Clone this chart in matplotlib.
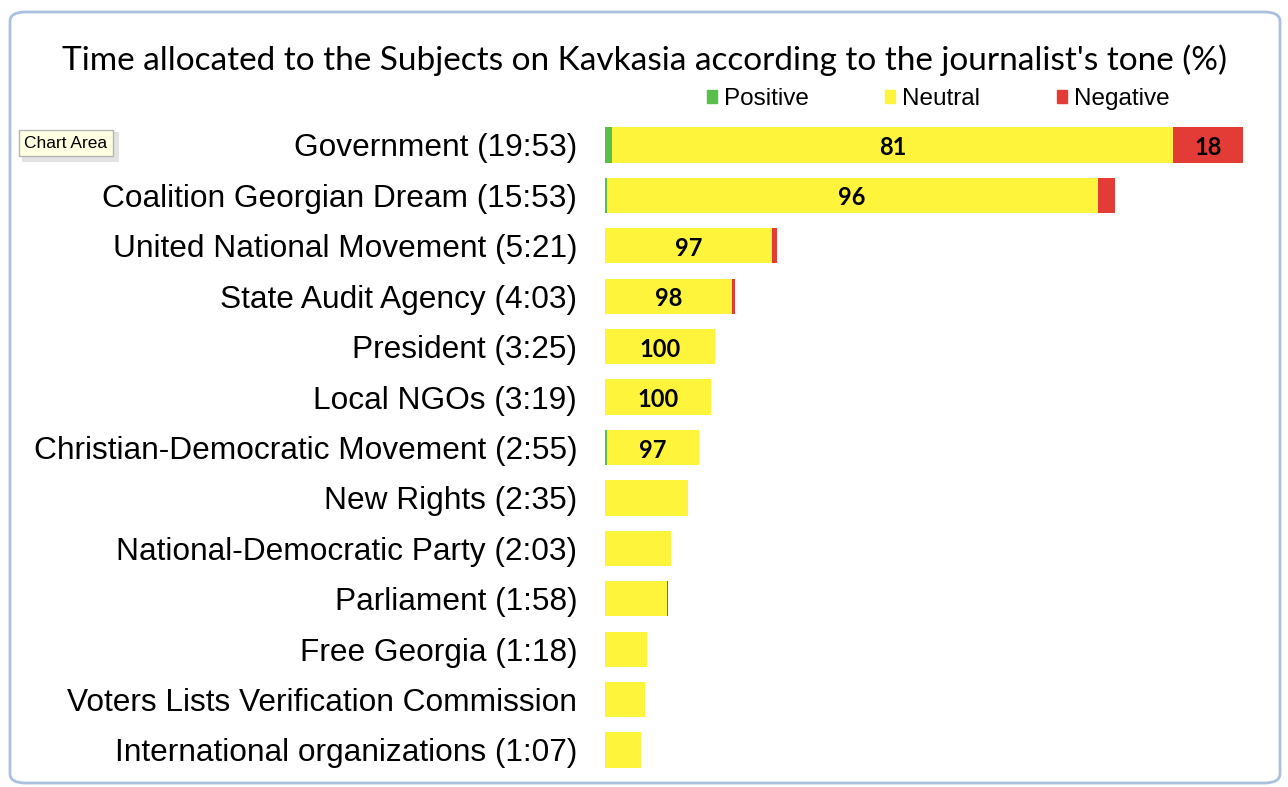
import numpy as np
import matplotlib
matplotlib.use('Agg')
import matplotlib.pyplot as plt
from matplotlib.patches import Patch, FancyBboxPatch, Rectangle

# subjects, top to bottom
subjects = ['Government (19:53)', 'Coalition Georgian Dream (15:53)', 'United National Movement (5:21)',
            'State Audit Agency (4:03)', 'President (3:25)', 'Local NGOs (3:19)',
            'Christian-Democratic Movement (2:55)', 'New Rights (2:35)', 'National-Democratic Party (2:03)',
            'Parliament (1:58)', 'Free Georgia (1:18)', 'Voters Lists Verification Commission',
            'International organizations (1:07)']

# time in seconds per tone
positive = [13, 3, 0, 0, 0, 0, 3, 0, 0, 0, 0, 0, 0]
neutral = [1049, 918, 312, 238, 205, 199, 172, 155, 123, 115, 78, 75, 67]
negative = [131, 32, 9, 5, 0, 0, 0, 0, 0, 3, 0, 0, 0]

# percent labels shown on bars
neutral_lbl = ['81', '96', '97', '98', '100', '100', '97', '', '', '', '', '', '']
negative_lbl = ['18', '', '', '', '', '', '', '', '', '', '', '', '']

colors = ['#58C04A', '#FFF43C', '#E33B36']

fig = plt.figure(figsize=(12.88, 7.87), dpi=100)

# window frame
frame = FancyBboxPatch((10/1288, 4/787), 1270/1288, 771/787, boxstyle='round,pad=0,rounding_size=0.012',
                       transform=fig.transFigure, facecolor='none', edgecolor='#A9C1DE', linewidth=2)
fig.patches.append(frame)

ax = fig.add_axes([605/1288, 0.015, 645/1288, 0.8328])
ax.patch.set_alpha(0)
y = np.arange(len(subjects))
pos = np.array(positive)
neu = np.array(neutral)
neg = np.array(negative)
ax.barh(y, pos, height=0.7, color=colors[0], label='Positive')
ax.barh(y, neu, left=pos, height=0.7, color=colors[1], label='Neutral')
ax.barh(y, neg, left=pos+neu, height=0.7, color=colors[2], label='Negative')

for i in range(len(subjects)):
    if neutral_lbl[i]:
        ax.text(pos[i]+neu[i]/2, i+0.05, neutral_lbl[i], ha='center', va='center',
                fontsize=17, fontweight='bold', family='Lato')
    if negative_lbl[i]:
        ax.text(pos[i]+neu[i]+neg[i]/2, i+0.05, negative_lbl[i], ha='center', va='center',
                fontsize=17, fontweight='bold', family='Lato')

ax.set_xlim(0, 1206)
ax.set_ylim(len(subjects)-0.5, -0.5)
ax.set_yticks(y)
ax.set_yticklabels(subjects, fontsize=22.8, family='Liberation Sans')
ax.tick_params(axis='y', length=0, pad=20)
ax.set_xticks([])
for s in ax.spines.values():
    s.set_visible(False)

fig.text(645/1288, 1-60/787, "Time allocated to the Subjects on Kavkasia according to the journalist's tone (%)",
         ha='center', va='center', fontsize=24, family='Lato')

handles = [Patch(color=c) for c in colors]
fig.legend(handles, ['Positive', 'Neutral', 'Negative'], loc='center', bbox_to_anchor=(938/1288, 1-99/787),
           ncol=3, frameon=False, handlelength=0.42, handleheight=0.42, handletextpad=0.28,
           columnspacing=3.15, prop={'family': 'Liberation Sans', 'size': 17.5})

# tooltip with a soft shadow
shadow = Rectangle((22/1288, 1-162/787), 97/1288, 30/787, transform=fig.transFigure,
                   facecolor='#CFCFCF', edgecolor='none', alpha=0.6)
fig.patches.append(shadow)
fig.text(66/1288, 1-143/787, 'Chart Area', ha='center', va='center', fontsize=12.5, family='Liberation Sans',
         bbox=dict(boxstyle='square,pad=0.3', facecolor='#FFFFE1', edgecolor='#B5B5B5'))

plt.savefig('out.png', dpi=100)
